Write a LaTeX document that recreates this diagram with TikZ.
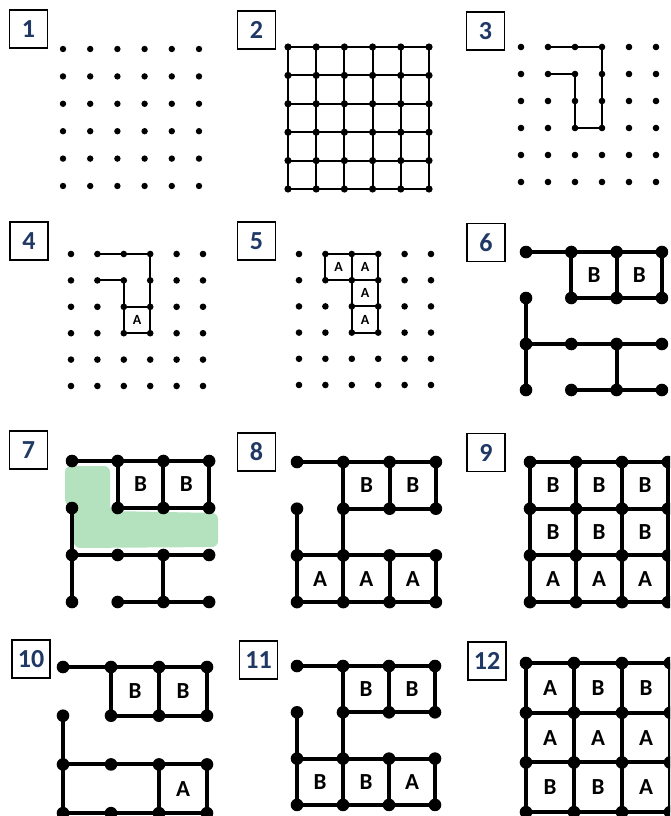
\documentclass[tikz,border=0pt]{standalone}
\usepackage{fontspec}
\setmainfont{Carlito}
\usetikzlibrary{calc}
\definecolor{numblue}{RGB}{31,56,100}
\definecolor{blobgreen}{RGB}{180,226,190}
\tikzset{
  numbox/.style={draw,line width=1.6pt,minimum width=38pt,minimum height=38pt,
    inner sep=0pt,text=numblue,font=\fontsize{26}{26}\selectfont\bfseries},
  thinline/.style={line width=1.9pt},
  thickline/.style={line width=4pt},
  smallcell/.style={font=\fontsize{14}{14}\selectfont\bfseries},
  bigcell/.style={font=\fontsize{23}{23}\selectfont\bfseries},
}
% named lattice points: name, x0, y0, dx, dy, last index
\newcommand\pts[6]{%
  \foreach \i in {0,...,#6}{\foreach \j in {0,...,#6}{
    \coordinate (#1-\i-\j) at ({#2+#4*\i},{#3+#5*\j});}}}
% dots on the lattice: name, last index, radius
\newcommand\pegs[3]{%
  \foreach \i in {0,...,#2}{\foreach \j in {0,...,#2}{
    \fill (#1-\i-\j) circle[radius=#3];}}}
% full grid: name, last index
\newcommand\fullgrid[2]{%
  \foreach \k in {0,...,#2}{
    \draw (#1-\k-0) -- (#1-\k-#2);
    \draw (#1-0-\k) -- (#1-#2-\k);}}
% letter in a cell: style, corner, corner, letter
\newcommand\lab[4][bigcell]{\node[#1] (#2c) at ($(#2)!.5!(#3)$) {#4};}

\begin{document}
\begin{tikzpicture}[x=1pt,y=-1pt]
\useasboundingbox (0,0) rectangle (670,816);
\clip (0,0) rectangle (670,816);

\node[numbox] (n1) at (28.5,29) {1};
\node[numbox] (n2) at (256.5,30) {2};
\node[numbox] (n3) at (485.5,31) {3};
\node[numbox] (n4) at (29,241) {4};
\node[numbox] (n5) at (256.5,241) {5};
\node[numbox] (n6) at (486,242.5) {6};
\node[numbox] (n7) at (28.5,450) {7};
\node[numbox] (n8) at (256.5,452) {8};
\node[numbox] (n9) at (486,452.5) {9};
\node[numbox] (n10) at (31,659) {10};
\node[numbox] (n11) at (258.5,660) {11};
\node[numbox] (n12) at (487,661) {12};

\pts{p1}{63}{49}{27.2}{27.4}{5}
\pts{p2}{288}{47}{28.2}{28.4}{5}
\pts{p3}{521}{47}{27}{27}{5}
\pts{p4}{71}{254}{26.4}{26.4}{5}
\pts{p5}{299}{254}{26.4}{26.2}{5}
\pts{p6}{526}{252}{45.3}{46}{3}
\pts{p7}{72}{461}{45.7}{47}{3}
\pts{p8}{297}{462}{46.3}{46.7}{3}
\pts{p9}{530}{462}{46}{46.7}{3}
\pts{p10}{63}{667}{48}{48.7}{3}
\pts{p11}{297}{666}{46}{46.3}{3}
\pts{p12}{526}{663}{48}{49.7}{3}

% 1
\pegs{p1}{5}{3.2pt}
% 2
\begin{scope}[thinline]
\fullgrid{p2}{5}
\end{scope}
\pegs{p2}{5}{3.6pt}
% 3
\draw[thinline] (p3-1-1) -- (p3-2-1) -- (p3-2-3) -- (p3-3-3) -- (p3-3-0) -- (p3-1-0);
\pegs{p3}{5}{3.3pt}
% 4
\draw[thinline] (p4-1-1) -- (p4-2-1) -- (p4-2-3) -- (p4-3-3) -- (p4-3-0) -- (p4-1-0);
\draw[thinline] (p4-2-2) -- (p4-3-2);
\pegs{p4}{5}{3.3pt}
\lab[smallcell]{p4-2-2}{p4-3-3}{A}
% 5
\draw[thinline] (p5-1-0) rectangle (p5-2-1) (p5-2-0) rectangle (p5-3-3)
  (p5-2-1) -- (p5-3-1) (p5-2-2) -- (p5-3-2);
\pegs{p5}{5}{3.3pt}
\lab[smallcell]{p5-1-0}{p5-2-1}{A}
\lab[smallcell]{p5-2-0}{p5-3-1}{A}
\lab[smallcell]{p5-2-1}{p5-3-2}{A}
\lab[smallcell]{p5-2-2}{p5-3-3}{A}
% 6
\draw[thickline] (p6-0-0) -- (p6-1-0) (p6-1-0) rectangle (p6-3-1) (p6-2-0) -- (p6-2-1)
  (p6-0-1) -- (p6-0-3) (p6-0-2) -- (p6-3-2) (p6-2-2) -- (p6-2-3) (p6-1-3) -- (p6-3-3);
\pegs{p6}{3}{6.3pt}
\lab{p6-1-0}{p6-2-1}{B}
\lab{p6-2-0}{p6-3-1}{B}
% 7
\fill[blobgreen,rounded corners=6pt] (65,466) -- (110,466) -- (110,511) -- (218,513)
  -- (218,547) -- (74,548) -- (73,508) -- (65,505) -- cycle;
\draw[thickline] (p7-0-0) -- (p7-1-0) (p7-1-0) rectangle (p7-3-1) (p7-2-0) -- (p7-2-1)
  (p7-0-1) -- (p7-0-3) (p7-0-2) -- (p7-3-2) (p7-2-2) -- (p7-2-3) (p7-1-3) -- (p7-3-3);
\pegs{p7}{3}{6.3pt}
\lab{p7-1-0}{p7-2-1}{B}
\lab{p7-2-0}{p7-3-1}{B}
% 8
\draw[thickline] (p8-0-0) -- (p8-1-0) (p8-1-0) rectangle (p8-3-1) (p8-2-0) -- (p8-2-1)
  (p8-0-1) -- (p8-0-2) (p8-1-1) -- (p8-1-2) (p8-0-2) rectangle (p8-3-3)
  (p8-1-2) -- (p8-1-3) (p8-2-2) -- (p8-2-3);
\pegs{p8}{3}{6.3pt}
\lab{p8-1-0}{p8-2-1}{B}
\lab{p8-2-0}{p8-3-1}{B}
\lab{p8-0-2}{p8-1-3}{A}
\lab{p8-1-2}{p8-2-3}{A}
\lab{p8-2-2}{p8-3-3}{A}
% 9
\begin{scope}[thickline]
\fullgrid{p9}{3}
\end{scope}
\pegs{p9}{3}{6.3pt}
\lab{p9-0-0}{p9-1-1}{B}
\lab{p9-1-0}{p9-2-1}{B}
\lab{p9-2-0}{p9-3-1}{B}
\lab{p9-0-1}{p9-1-2}{B}
\lab{p9-1-1}{p9-2-2}{B}
\lab{p9-2-1}{p9-3-2}{B}
\lab{p9-0-2}{p9-1-3}{A}
\lab{p9-1-2}{p9-2-3}{A}
\lab{p9-2-2}{p9-3-3}{A}
% 10
\draw[thickline] (p10-0-0) -- (p10-1-0) (p10-1-0) rectangle (p10-3-1) (p10-2-0) -- (p10-2-1)
  (p10-0-1) -- (p10-0-2) (p10-0-2) rectangle (p10-3-3) (p10-2-2) -- (p10-2-3);
\pegs{p10}{3}{6.3pt}
\lab{p10-1-0}{p10-2-1}{B}
\lab{p10-2-0}{p10-3-1}{B}
\lab{p10-2-2}{p10-3-3}{A}
% 11
\draw[thickline] (p11-0-0) -- (p11-1-0) (p11-1-0) rectangle (p11-3-1) (p11-2-0) -- (p11-2-1)
  (p11-0-1) -- (p11-0-2) (p11-1-1) -- (p11-1-2) (p11-0-2) rectangle (p11-3-3)
  (p11-1-2) -- (p11-1-3) (p11-2-2) -- (p11-2-3);
\pegs{p11}{3}{6.3pt}
\lab{p11-1-0}{p11-2-1}{B}
\lab{p11-2-0}{p11-3-1}{B}
\lab{p11-0-2}{p11-1-3}{B}
\lab{p11-1-2}{p11-2-3}{B}
\lab{p11-2-2}{p11-3-3}{A}
% 12
\begin{scope}[thickline]
\fullgrid{p12}{3}
\end{scope}
\pegs{p12}{3}{6.3pt}
\lab{p12-0-0}{p12-1-1}{A}
\lab{p12-1-0}{p12-2-1}{B}
\lab{p12-2-0}{p12-3-1}{B}
\lab{p12-0-1}{p12-1-2}{A}
\lab{p12-1-1}{p12-2-2}{A}
\lab{p12-2-1}{p12-3-2}{A}
\lab{p12-0-2}{p12-1-3}{B}
\lab{p12-1-2}{p12-2-3}{B}
\lab{p12-2-2}{p12-3-3}{A}
\end{tikzpicture}
\end{document}
